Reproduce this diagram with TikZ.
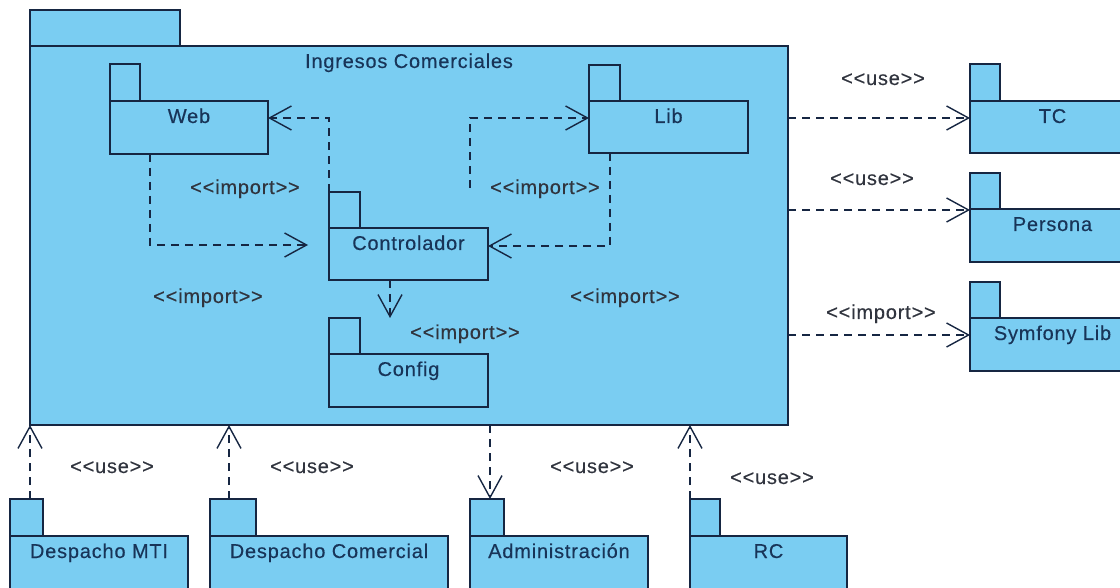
\documentclass[tikz,border=0pt]{standalone}
\usepackage{fontspec}
\newfontfamily\umlfont{Liberation Sans}[LetterSpace=4,FakeBold=0.35]
\usetikzlibrary{arrows.meta,calc}

\definecolor{pkgfill}{RGB}{122,205,242}
\definecolor{pkgline}{RGB}{22,38,66}
\definecolor{pkgtext}{RGB}{24,52,88}
\definecolor{stereo}{RGB}{48,52,62}

\tikzset{
  pkgbody/.style={draw=pkgline, fill=pkgfill, line width=1.6pt, rectangle, inner sep=0pt, outer sep=0pt},
  pkgtab/.style={pkgbody},
  pkgname/.style={text=pkgtext, anchor=base, inner sep=0pt},
  stlabel/.style={text=stereo, anchor=base, inner sep=0pt},
  dep/.style={draw=pkgline, line width=1.3pt, dash pattern=on 8pt off 6pt,
    -{Straight Barb[length=22pt,width=24pt,line width=1.4pt]}}
}

% UML package: name, left, tab top, tab right, body top, right, bottom, label
\newcommand\umlpkg[8]{%
  \node[pkgtab, minimum width={#4-(#2)}, minimum height={#5-(#3)}] (#1-tab) at ({(#2+#4)/2},{(#3+#5)/2}) {};
  \node[pkgbody, minimum width={#6-(#2)}, minimum height={#7-(#5)}] (#1) at ({(#2+#6)/2},{(#5+#7)/2}) {};
  \node[pkgname] (#1-name) at ({(#2+#6)/2},{#5+22}) {#8};
}

\begin{document}
\begin{tikzpicture}[x=1pt, y=-1pt, font={\umlfont\fontsize{20}{23}\selectfont}]
\useasboundingbox (0,0) rectangle (1120,588);
\clip (0,0) rectangle (1120,588);

% outer package
\umlpkg{ingresos}{30}{10}{180}{46}{788}{425}{Ingresos Comerciales}

% inner packages
\umlpkg{web}{110}{64}{140}{101}{268}{154}{Web}
\umlpkg{lib}{589}{65}{620}{101}{748}{153}{Lib}
\umlpkg{ctrl}{329}{192}{360}{228}{488}{280}{Controlador}
\umlpkg{cfg}{329}{318}{360}{354}{488}{407}{Config}

% external packages on the right
\umlpkg{tc}{970}{64}{1000}{101}{1135}{153}{TC}
\umlpkg{persona}{970}{173}{1000}{209}{1135}{262}{Persona}
\umlpkg{sym}{970}{282}{1000}{318}{1135}{371}{Symfony Lib}

% packages below
\umlpkg{mti}{10}{499}{43}{536}{188}{610}{Despacho MTI}
\umlpkg{dc}{210}{499}{256}{536}{448}{610}{Despacho Comercial}
\umlpkg{adm}{470}{499}{504}{536}{648}{610}{Administración}
\umlpkg{rc}{690}{499}{720}{536}{847}{610}{RC}

% free ends of dependencies
\coordinate (ctrl-in) at (308,245);
\coordinate (lib-from) at (470,188);

% dependencies inside the outer package
\draw[dep] (ctrl-tab.north west) |- (web.east |- 0,118);
\draw[dep] (150,0 |- web.south) |- (ctrl-in);
\draw[dep] (lib-from) |- (lib.west |- 0,118);
\draw[dep] (610,0 |- lib.south) |- (ctrl.east |- 0,246);
\draw[dep] (390,0 |- ctrl.south) -- (390,0 |- cfg-tab.north);

% dependencies to the right
\draw[dep] (ingresos.east |- 0,118) -- (tc.west |- 0,118);
\draw[dep] (ingresos.east |- 0,210) -- (persona.west |- 0,210);
\draw[dep] (ingresos.east |- 0,335) -- (sym.west |- 0,335);

% dependencies below
\draw[dep] (30,0 |- mti-tab.north) -- (30,0 |- ingresos.south);
\draw[dep] (229,0 |- dc-tab.north) -- (229,0 |- ingresos.south);
\draw[dep] (490,0 |- ingresos.south) -- (490,0 |- adm-tab.north);
\draw[dep] (rc-tab.north west) -- (rc-tab.north west |- ingresos.south);

% stereotypes
\node[stlabel] (s1) at (245,194) {<<import>>};
\node[stlabel] (s2) at (545,194) {<<import>>};
\node[stlabel] (s3) at (208,303) {<<import>>};
\node[stlabel] (s4) at (625,303) {<<import>>};
\node[stlabel] (s5) at (465,339) {<<import>>};
\node[stlabel] (s6) at (883,85) {<<use>>};
\node[stlabel] (s7) at (872,185) {<<use>>};
\node[stlabel] (s8) at (881,319) {<<import>>};
\node[stlabel] (s9) at (112,473) {<<use>>};
\node[stlabel] (s10) at (312,473) {<<use>>};
\node[stlabel] (s11) at (592,473) {<<use>>};
\node[stlabel] (s12) at (772,484) {<<use>>};
\end{tikzpicture}
\end{document}
